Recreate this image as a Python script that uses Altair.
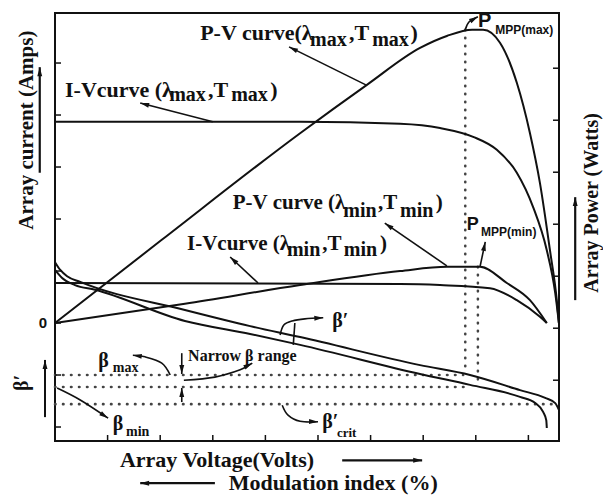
import math
import altair as alt
import pandas as pd

INK = "#111111"

# ---------------- curve data (x: voltage units, y: current/power units) ----------------
IV_MAX_X = [0, 4.66, 6.56, 7.32, 7.95, 8.40, 8.78, 9.09, 9.35, 9.51, 9.58]
IV_MAX_Y = [3.87, 3.87, 3.83, 3.75, 3.58, 3.33, 2.89, 2.23, 1.40, 0.58, 0.0]

PV_MAX_X = [0, 2.03, 4.66, 5.93, 6.94, 7.45, 7.93, 8.14, 8.46, 8.78, 9.03, 9.22, 9.41, 9.54, 9.58]
PV_MAX_Y = [0, 1.60, 3.65, 4.58, 5.29, 5.52, 5.64, 5.64, 5.39, 4.62, 3.65, 2.69, 1.40, 0.44, 0.0]

PV_MIN_X = [0, 2.47, 4.66, 6.56, 7.45, 8.08, 8.59, 9.03, 9.35]
PV_MIN_Y = [0, 0.37, 0.73, 1.00, 1.08, 1.08, 0.77, 0.44, 0.0]

IV_MIN_X = [0, 6.56, 7.32, 8.27, 8.78, 9.22, 9.35]
IV_MIN_Y = [0.77, 0.75, 0.73, 0.67, 0.44, 0.12, 0.0]

BETA_HI_X = [0, 0.10, 0.23, 0.48, 2.47, 3.71, 4.66, 6.94, 7.89, 8.84, 9.32, 9.51, 9.58]
BETA_HI_Y = [1.17, 1.02, 0.90, 0.79, 0.25, -0.06, -0.27, -0.81, -1.00, -1.29, -1.44, -1.54, -1.67]

BETA_LO_X = [0, 0.13, 0.38, 0.76, 2.47, 3.71, 4.66, 6.94, 7.89, 8.84, 9.13, 9.28, 9.34, 9.35]
BETA_LO_Y = [1.02, 0.87, 0.73, 0.64, 0.04, -0.21, -0.42, -0.98, -1.19, -1.42, -1.54, -1.71, -1.87, -2.02]

# dotted guide lines
H_DOT_Y = [-1.00, -1.23, -1.56]
H_DOT_X_END = [7.76, 7.89, 9.47]
V_DOT_X = [7.80, 8.04]
V_DOT_Y_TOP = [5.64, 1.08]
V_DOT_Y_BOT = [-0.94, -1.15]

# tick values
BOTTOM_TICKS = [1, 2, 3, 4, 5, 6, 7, 8, 9]
LEFT_TICKS = [-2, -1, 0, 1, 2, 3, 4, 5]
RIGHT_TICKS = [4.9, 3.9, 2.9, 1.9, 0.9, -0.1, -1.1]

# ---------------- annotation layout ----------------
SERIF_LABELS = [
    ("P-V curve(λ", 2.76, 5.44, 22), ("max", 4.85, 5.33, 20), (",T", 5.59, 5.44, 22),
    ("max", 6.03, 5.33, 20), (")", 6.76, 5.44, 22),
    ("I-Vcurve (λ", 0.19, 4.35, 22), ("max", 2.17, 4.27, 20), (",T", 2.91, 4.35, 22),
    ("max", 3.35, 4.27, 20), (")", 4.09, 4.35, 22),
    ("P-V curve (λ", 3.38, 2.19, 21), ("min", 5.48, 2.04, 20), (",T", 6.14, 2.19, 21),
    ("min", 6.56, 2.04, 20), (")", 7.24, 2.19, 21),
    ("I-Vcurve (λ", 2.51, 1.40, 21), ("min", 4.41, 1.29, 20), (",T", 5.08, 1.40, 21),
    ("min", 5.49, 1.29, 20), (")", 6.18, 1.40, 21),
    ("β′", 5.27, -0.08, 20),
    ("β", 0.82, -0.85, 20), ("max", 1.10, -0.94, 14),
    ("Narrow β range", 2.53, -0.73, 16),
    ("β", 1.10, -2.06, 20), ("min", 1.35, -2.17, 14),
    ("β′", 5.08, -2.02, 20), ("crit", 5.36, -2.19, 13),
]
SANS_LABELS = [
    ("P", 8.04, 5.69, 20), ("MPP(max)", 8.37, 5.56, 12),
    ("P", 7.83, 1.79, 18), ("MPP(min)", 8.10, 1.67, 12),
]
ROTATED_TITLES = [
    ("Array current (Amps)", -0.53, 3.71, 21),
    ("Array Power (Watts)", 10.21, 2.31, 20),
    ("β′", -0.63, -1.15, 20),
]
BOTTOM_TITLES = [
    ("Array Voltage(Volts)", 3.08, -2.77, 22),
    ("Modulation index (%)", 5.29, -3.21, 22),
]
ZERO_LABEL = [("0", -0.23, 0.0, 15)]

ARROWS = {
    "pvmax": ([(5.91, 4.58), (4.45, 5.31)], 1.6, True),
    "ivmax": ([(3.00, 3.87), (1.62, 4.23)], 1.6, True),
    "pvmin": ([(7.45, 1.10), (6.27, 1.92)], 1.6, True),
    "ivmin": ([(3.86, 0.77), (3.33, 1.27)], 1.6, True),
    "pmppmax": ([(7.80, 5.64), (7.87, 5.79), (8.04, 5.89)], 1.6, True),
    "pmppmin": ([(8.08, 1.08), (8.18, 1.56)], 1.6, True),
    "amps": ([(-0.29, 2.89), (-0.29, 4.92)], 2.2, True),
    "watts": ([(9.89, 0.44), (9.89, 2.42)], 2.2, True),
    "beta_axis": ([(-0.19, -1.81), (-0.19, -0.71)], 2.0, True),
    "volts": ([(5.46, -2.64), (6.98, -2.64)], 2.2, True),
    "modulation": ([(3.04, -3.08), (1.62, -3.08)], 2.2, True),
    "beta_prime": ([(4.28, -0.23), (4.35, -0.04), (4.51, 0.04), (4.75, 0.08), (5.10, 0.10)], 1.6, True),
    "beta_stem": ([(4.53, -0.42), (4.56, 0.0)], 1.6, False),
    "beta_max": ([(2.19, -1.00), (2.03, -0.77), (1.71, -0.65), (1.48, -0.62)], 1.6, True),
    "narrow_down": ([(2.41, -0.58), (2.41, -0.98)], 1.6, True),
    "narrow_up": ([(2.41, -1.52), (2.41, -1.25)], 1.6, True),
    "narrow_curve": ([(2.45, -1.10), (3.04, -1.04), (3.52, -0.90), (3.75, -0.77)], 1.6, True),
    "beta_min": ([(0.04, -1.25), (0.48, -1.48), (1.01, -1.83)], 1.6, True),
    "beta_crit": ([(4.32, -1.58), (4.43, -1.77), (4.66, -1.89), (5.00, -1.90)], 1.6, True),
}

# ---------------- scales ----------------
W, H = 504, 428
PX_X, PX_Y = 52.6, 52.0  # pixels per data unit
XS = alt.Scale(domain=[0, 9.582], nice=False, zero=False)
YS = alt.Scale(domain=[-2.269, 5.962], nice=False, zero=False)


def X(f="x"):
    return alt.X(f"{f}:Q", scale=XS, axis=None)


def Y(f="y"):
    return alt.Y(f"{f}:Q", scale=YS, axis=None)


# ---------------- tables ----------------
curve_rows = []
for name, xs, ys in [("iv_max", IV_MAX_X, IV_MAX_Y), ("pv_max", PV_MAX_X, PV_MAX_Y),
                     ("pv_min", PV_MIN_X, PV_MIN_Y), ("iv_min", IV_MIN_X, IV_MIN_Y),
                     ("beta_hi", BETA_HI_X, BETA_HI_Y), ("beta_lo", BETA_LO_X, BETA_LO_Y)]:
    for i, (a, b) in enumerate(zip(xs, ys)):
        curve_rows.append({"series": name, "i": i, "x": a, "y": b})
curves = pd.DataFrame(curve_rows)

arrow_rows, head_rows = [], []
HEAD_SIZE = 80
r_px = math.sqrt(HEAD_SIZE) / 2
for aid, (pts, w, head) in ARROWS.items():
    for i, (a, b) in enumerate(pts):
        arrow_rows.append({"id": aid, "i": i, "x": a, "y": b, "w": w})
    if head:
        (x0, y0), (x1, y1) = pts[-2], pts[-1]
        dx, dy = (x1 - x0) * PX_X, (y1 - y0) * PX_Y
        ang = math.degrees(math.atan2(dx, dy)) % 360
        s, c = math.sin(math.radians(ang)), math.cos(math.radians(ang))
        head_rows.append({"x": x1 - s * r_px / PX_X, "y": y1 - c * r_px / PX_Y, "angle": ang})
arrows = pd.DataFrame(arrow_rows)
heads = pd.DataFrame(head_rows)

hdots = pd.DataFrame({"y": H_DOT_Y, "x1": [0] * len(H_DOT_Y), "x2": H_DOT_X_END})
vdots = pd.DataFrame({"x": V_DOT_X, "y1": V_DOT_Y_TOP, "y2": V_DOT_Y_BOT})


def lab(rows):
    return pd.DataFrame(rows, columns=["t", "x", "y", "s"])


# ---------------- layers ----------------
lines = alt.Chart(curves).mark_line(color=INK, strokeWidth=2, interpolate="monotone").encode(
    x=X(), y=Y(), detail="series:N", order="i:Q")

arrow_lines = alt.Chart(arrows).mark_line(color=INK, interpolate="cardinal").encode(
    x=X(), y=Y(), detail="id:N", order="i:Q", strokeWidth=alt.StrokeWidth("w:Q", scale=None))

arrow_heads = alt.Chart(heads).mark_point(
    shape="M0,-1L0.55,1L-0.55,1Z", filled=True, size=HEAD_SIZE, color=INK, opacity=1, strokeWidth=0
).encode(x=X(), y=Y(), angle=alt.Angle("angle:Q", scale=None))

DOT = dict(color="#444444", strokeWidth=2.6, strokeDash=[0.5, 7.5], strokeCap="round")
hdot_layer = alt.Chart(hdots).mark_rule(**DOT).encode(x=X("x1"), x2="x2:Q", y=Y())
vdot_layer = alt.Chart(vdots).mark_rule(**DOT).encode(x=X(), y=Y("y1"), y2="y2:Q")

tick_b = alt.Chart(pd.DataFrame({"v": BOTTOM_TICKS})).mark_rule(color=INK, strokeWidth=1.5).encode(
    x=X("v"), y=alt.value(H), y2=alt.value(H - 6))
tick_l = alt.Chart(pd.DataFrame({"v": LEFT_TICKS})).mark_rule(color=INK, strokeWidth=1.5).encode(
    y=Y("v"), x=alt.value(0), x2=alt.value(6))
tick_r = alt.Chart(pd.DataFrame({"v": RIGHT_TICKS})).mark_rule(color=INK, strokeWidth=1.5).encode(
    y=Y("v"), x=alt.value(W), x2=alt.value(W - 6))

serif = alt.Chart(lab(SERIF_LABELS)).mark_text(
    font="Liberation Serif", fontWeight="bold", align="left", baseline="alphabetic", color=INK
).encode(x=X(), y=Y(), text="t:N", size=alt.Size("s:Q", scale=None))

sans = alt.Chart(lab(SANS_LABELS)).mark_text(
    font="Liberation Sans", fontWeight="bold", align="left", baseline="alphabetic", color=INK
).encode(x=X(), y=Y(), text="t:N", size=alt.Size("s:Q", scale=None))

zero = alt.Chart(lab(ZERO_LABEL)).mark_text(
    font="Liberation Sans", fontWeight="bold", align="center", baseline="middle", color=INK
).encode(x=X(), y=Y(), text="t:N", size=alt.Size("s:Q", scale=None))

rot = alt.Chart(lab(ROTATED_TITLES)).mark_text(
    font="Liberation Serif", fontWeight="bold", align="center", baseline="middle", angle=270, color=INK
).encode(x=X(), y=Y(), text="t:N", size=alt.Size("s:Q", scale=None))

bottom = alt.Chart(lab(BOTTOM_TITLES)).mark_text(
    font="Liberation Serif", fontWeight="bold", align="center", baseline="alphabetic", color=INK
).encode(x=X(), y=Y(), text="t:N", size=alt.Size("s:Q", scale=None))

chart = alt.layer(
    hdot_layer, vdot_layer, lines, arrow_lines, arrow_heads,
    tick_b, tick_l, tick_r, serif, sans, zero, rot, bottom
).properties(
    width=W, height=H,
    autosize=alt.AutoSizeParams(type="none"),
    padding={"left": 55, "top": 13, "right": 44, "bottom": 57},
    background="white",
).configure_view(stroke=INK, strokeWidth=2)

chart.save("out.html", embed_options={"renderer": "svg", "actions": False})
